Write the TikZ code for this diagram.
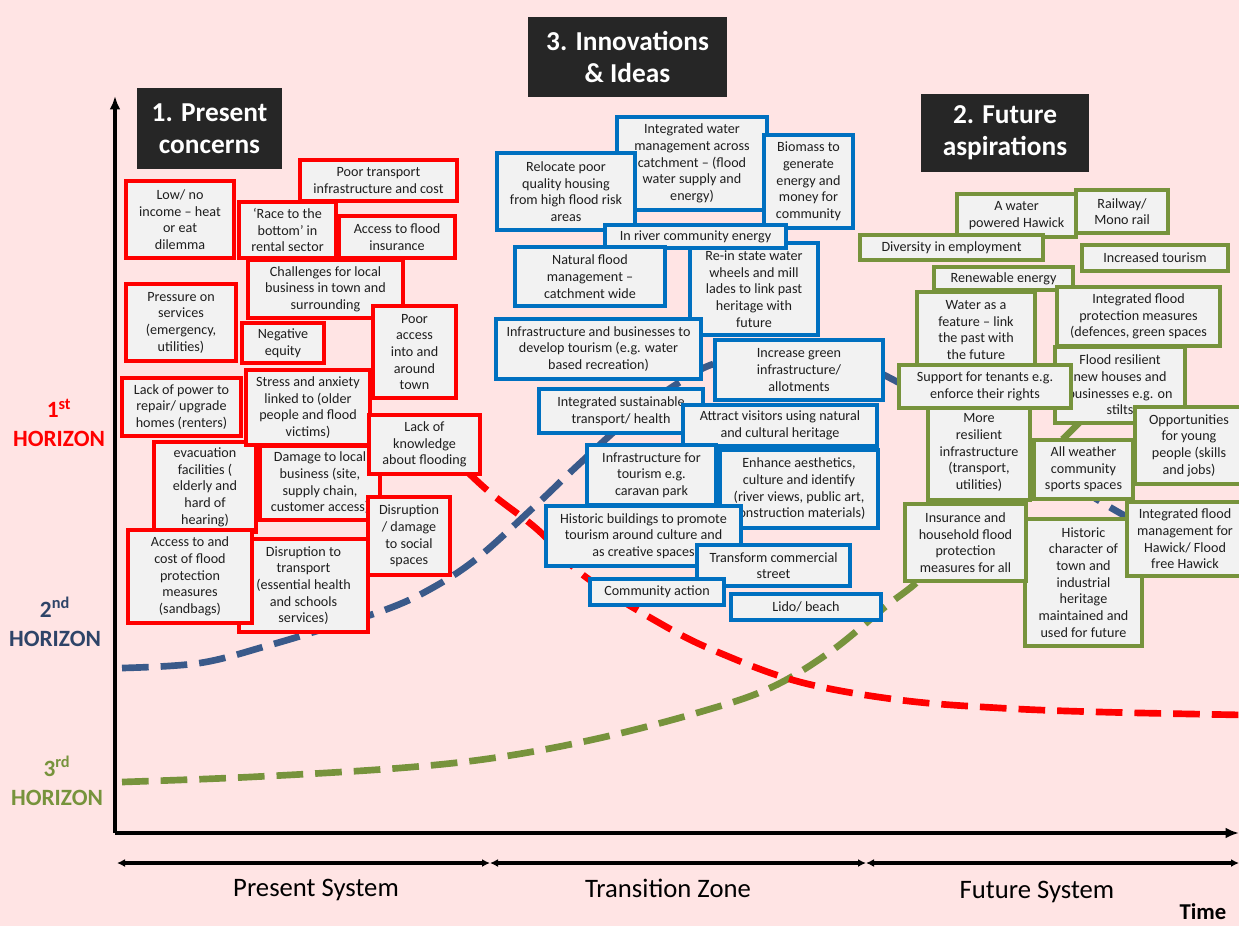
\documentclass[tikz,border=0pt]{standalone}
\usepackage{fontspec}
\setmainfont{Carlito}
\usetikzlibrary{arrows.meta}
\definecolor{bg}{HTML}{FFE4E4}
\definecolor{boxfill}{HTML}{F2F2F2}
\definecolor{cred}{HTML}{FF0000}
\definecolor{cblue}{HTML}{0070C0}
\definecolor{cgreen}{HTML}{77933C}
\definecolor{cnavy}{HTML}{3A5A8A}
\definecolor{hnavy}{HTML}{2E4468}
\definecolor{titlebg}{HTML}{262626}
\definecolor{txt}{HTML}{1E1E1E}
\tikzset{
  sz/.style 2 args={minimum width={(#1-4)*0.75pt}, minimum height={(#2-4)*0.75pt}},
  box/.style={draw, line width=3pt, fill=boxfill, align=center, inner sep=0pt, text=txt,
    font=\fontsize{10.6}{12.5}\selectfont},
  rbox/.style={box, draw=cred},
  bbox/.style={box, draw=cblue},
  gbox/.style={box, draw=cgreen},
  titlebox/.style={fill=titlebg, text=white, align=center, inner sep=0pt,
    font=\fontsize{20.5}{24}\selectfont\bfseries},
  curve/.style={line width=5pt, dash pattern=on 20pt off 9pt},
  horizon/.style={align=center, font=\fontsize{17.5}{22}\selectfont\bfseries},
  axisline/.style={line width=3pt, -{Latex[length=10pt,width=8pt]}},
  spanarrow/.style={line width=2.4pt, {Latex[length=6pt,width=6pt]}-{Latex[length=6pt,width=6pt]}},
  zonelabel/.style={font=\fontsize{20}{24}\selectfont, text=black}
}
\begin{document}
\begin{tikzpicture}[x=0.75pt,y=-0.75pt]
\fill[bg] (0,0) rectangle (1239,926);
\useasboundingbox (0,0) rectangle (1239,926);

% ---------- horizon curves ----------
\draw[curve, cgreen] plot[smooth, tension=0.6] coordinates {(122,782) (250,777) (400,768) (500,757) (600,738) (700,712) (770,688) (830,652) (885,607) (925,575) (1000,500) (1070,432) (1110,390)};
\draw[curve, cnavy] plot[smooth, tension=0.6] coordinates {(122,668) (200,663) (270,645) (330,627) (382,611) (425,592) (475,560) (535,506) (577,466) (630,418) (680,382) (720,362) (790,352) (850,362) (890,378) (1000,440) (1113,509) (1150,528)};
\draw[curve, cred] plot[smooth, tension=0.6] coordinates {(440,445) (487,490) (538,530) (583,575) (663,625) (720,653) (800,682) (900,700) (1000,708) (1100,712) (1245,715)};

% ---------- axes ----------
\coordinate (O) at (115,833);
\coordinate (Ytop) at (115,96);
\coordinate (Xend) at (1239,833);
\draw[axisline] (O) -- (Ytop);
\draw[axisline] (O) -- (Xend);

% ---------- time spans ----------
\coordinate (s0) at (117,863);
\coordinate (s1) at (490,863);
\coordinate (s2) at (866,863);
\coordinate (s3) at (1239,863);
\draw[spanarrow] (s0) -- (s1);
\draw[spanarrow] (s1) -- (s2);
\draw[spanarrow] (s2) -- (s3);
\node[zonelabel] (zp) at (316,890) {Present System};
\node[zonelabel] (zt) at (668,888) {Transition Zone};
\node[zonelabel] (zf) at (1037,892) {Future System};
\node[font=\fontsize{17}{19}\selectfont\bfseries] (time) at (1203,912) {Time};

% ---------- horizon labels ----------
\node[horizon, text=cred] (h1) at (59,423) {1\textsuperscript{st}\\HORIZON};
\node[horizon, text=hnavy] (h2) at (55,622) {2\textsuperscript{nd}\\HORIZON};
\node[horizon, text=cgreen] (h3) at (57,781) {3\textsuperscript{rd}\\HORIZON};

% ---------- titles ----------
\node[titlebox, minimum width=145*0.75pt, minimum height=81*0.75pt] (t1) at (209.5,128.5) {1. Present\\concerns};
\node[titlebox, minimum width=199*0.75pt, minimum height=80*0.75pt] (t3) at (627.5,57) {3. Innovations\\\& Ideas};
\node[titlebox, minimum width=168*0.75pt, minimum height=78*0.75pt] (t2) at (1005,133) {2. Future\\aspirations};

% ---------- present concerns (red) ----------
\node[rbox, sz={161}{45}] (rtransport) at (378.5,180.5) {Poor transport\\infrastructure and cost};
\node[rbox, sz={159}{62}] (rchall) at (325.5,289) {Challenges for local\\business in town and\\surrounding};
\node[rbox, sz={112}{81}] (rlow) at (180,219.5) {Low/ no\\income – heat\\or eat\\dilemma};
\node[rbox, sz={101}{60}] (rrace) at (287.5,230) {‘Race to the\\bottom’ in\\rental sector};
\node[rbox, sz={120}{46}] (raccess) at (397,237) {Access to flood\\insurance};
\node[rbox, sz={114}{81}] (rpress) at (181,322.5) {Pressure on\\services\\(emergency,\\utilities)};
\node[rbox, sz={86}{44}] (rneg) at (283,343) {Negative\\equity};
\node[rbox, sz={87}{96}] (rpoor) at (414.5,352) {Poor\\access\\into and\\around\\town};
\node[rbox, sz={106}{94}] (revac) at (205,487) {evacuation\\facilities (\\elderly and\\hard of\\hearing)};
\node[rbox, sz={124}{78}] (rdamage) at (320,483) {Damage to local\\business (site,\\supply chain,\\customer access)};
\node[rbox, sz={123}{62}] (rpower) at (181.5,407) {Lack of power to\\repair/ upgrade\\homes (renters)};
\node[rbox, sz={128}{79}] (rstress) at (308,407.5) {Stress and anxiety\\linked to (older\\people and flood\\victims)};
\node[rbox, sz={115}{63}] (rknow) at (424.5,444.5) {Lack of\\knowledge\\about flooding};
\node[rbox, sz={133}{97}] (rtransp) at (303.5,585.5) {Disruption to\\transport\\(essential health\\and schools\\services)};
\node[rbox, sz={86}{82}] (rsocial) at (409,536) {Disruption\\/ damage\\to social\\spaces};
\node[rbox, sz={128}{97}] (rcost) at (190,576.5) {Access to and\\cost of flood\\protection\\measures\\(sandbags)};

% ---------- innovations (blue) ----------
\node[bbox, sz={154}{97}] (bintwater) at (692,163.5) {Integrated water\\management across\\catchment – (flood\\water supply and\\energy)};
\node[bbox, sz={142}{81}] (brelocate) at (566,191.5) {Relocate poor\\quality housing\\from high flood risk\\areas};
\node[bbox, sz={93}{97}] (bbiomass) at (808.5,181.5) {Biomass to\\generate\\energy and\\money for\\community};
\node[bbox, sz={132}{96}] (brein) at (754,289) {Re-in state water\\wheels and mill\\lades to link past\\heritage with\\future};
\node[bbox, sz={185}{27}] (briver) at (695.5,236.5) {In river community energy};
\node[bbox, sz={154}{63}] (bnatural) at (590,276.5) {Natural flood\\management –\\catchment wide};
\node[bbox, sz={209}{64}] (binfbus) at (598.5,349) {Infrastructure and businesses to\\develop tourism (e.g. water\\based recreation)};
\node[bbox, sz={172}{64}] (bgreen) at (799,370) {Increase green\\infrastructure/\\allotments};
\node[bbox, sz={168}{48}] (bsust) at (621,411) {Integrated sustainable\\transport/ health};
\node[bbox, sz={198}{45}] (battract) at (780,425.5) {Attract visitors using natural\\and cultural heritage};
\node[bbox, sz={133}{64}] (binftour) at (651.5,475) {Infrastructure for\\tourism e.g.\\caravan park};
\node[bbox, sz={162}{82}] (benhance) at (799,489) {Enhance aesthetics,\\culture and identify\\(river views, public art,\\construction materials)};
\node[bbox, sz={199}{64}] (bhistoric) at (643.5,536) {Historic buildings to promote\\tourism around culture and\\as creative spaces};
\node[bbox, sz={157}{45}] (btransform) at (773.5,565.5) {Transform commercial\\street};
\node[bbox, sz={138}{30}] (bcommunity) at (657,592) {Community action};
\node[bbox, sz={154}{30}] (blido) at (806,607) {Lido/ beach};

% ---------- future aspirations (green) ----------
\node[gbox, sz={123}{47}] (gwater) at (1016.5,215.5) {A water\\powered Hawick};
\node[gbox, sz={96}{47}] (grail) at (1122,211.5) {Railway/\\Mono rail};
\node[gbox, sz={187}{29}] (gdiv) at (951.5,247.5) {Diversity in employment};
\node[gbox, sz={150}{30}] (gtour) at (1155,258) {Increased tourism};
\node[gbox, sz={143}{27}] (grenew) at (1003.5,278.5) {Renewable energy};
\node[gbox, sz={122}{80}] (gfeature) at (976,330) {Water as a\\feature – link\\the past with\\the future};
\node[gbox, sz={134}{80}] (gresil) at (1120,385) {Flood resilient\\new houses and\\businesses e.g. on\\stilts};
\node[gbox, sz={167}{63}] (gintprot) at (1138.5,316.5) {Integrated flood\\protection measures\\(defences, green spaces};
\node[gbox, sz={106}{98}] (gmore) at (979,452.5) {More\\resilient\\infrastructure\\(transport,\\utilities)};
\node[gbox, sz={176}{47}] (gsupport) at (985,386.5) {Support for tenants e.g.\\enforce their rights};
\node[gbox, sz={103}{63}] (gallw) at (1083.5,469.5) {All weather\\community\\sports spaces};
\node[gbox, sz={112}{81}] (gopp) at (1189,445.5) {Opportunities\\for young\\people (skills\\and jobs)};
\node[gbox, sz={121}{131}] (ghist) at (1083.5,582.5) {Historic\\character of\\town and\\industrial\\heritage\\maintained and\\used for future};
\node[gbox, sz={125}{81}] (gins) at (965.5,542.5) {Insurance and\\household flood\\protection\\measures for all};
\node[gbox, sz={120}{78}] (gintman) at (1185,539) {Integrated flood\\management for\\Hawick/ Flood\\free Hawick};
\end{tikzpicture}
\end{document}
